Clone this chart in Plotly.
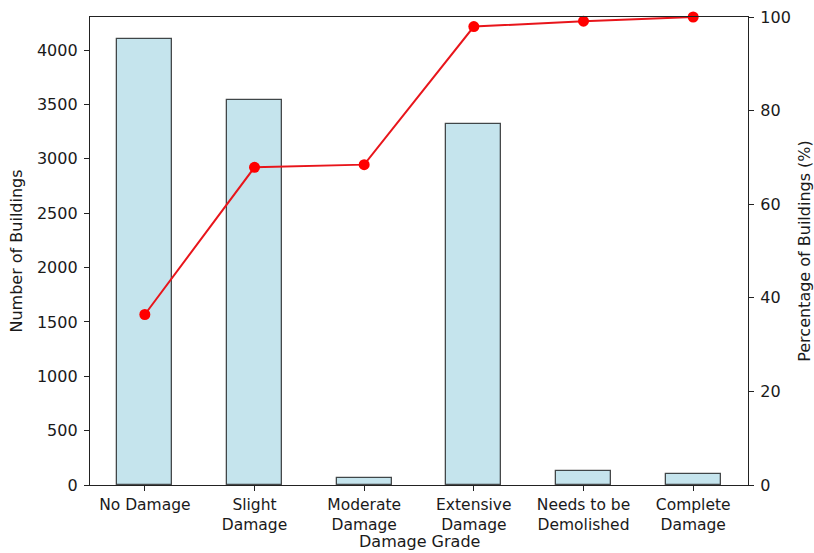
import plotly.graph_objects as go

categories = ["No Damage", "Slight<br>Damage", "Moderate<br>Damage", "Extensive<br>Damage",
              "Needs to be<br>Demolished", "Complete<br>Damage"]
building_counts = [4100, 3540, 64, 3320, 129, 101]

total = sum(building_counts)
cumulative_pct = []
running = 0
for c in building_counts:
    running += c
    cumulative_pct.append(running / total * 100)

xpos = list(range(len(categories)))
font = dict(family="DejaVu Sans", size=16, color="#1a1a1a")
xtick_font = dict(family="DejaVu Sans", size=15.5, color="#1a1a1a")

fig = go.Figure()
fig.add_trace(go.Bar(
    x=xpos, y=building_counts, width=0.5,
    marker=dict(color="rgba(173,216,230,0.7)",
                line=dict(color="rgba(0,0,0,0.7)", width=1.3)),
    showlegend=False,
))
fig.add_trace(go.Scatter(
    x=xpos, y=cumulative_pct, yaxis="y2", mode="lines+markers",
    line=dict(color="#e8151b", width=2),
    marker=dict(color="#ff0000", size=11),
    showlegend=False, cliponaxis=False,
))

axis_common = dict(showline=True, linecolor="#222", linewidth=1.3, ticks="outside",
                   ticklen=5, tickcolor="#222", showgrid=False, zeroline=False,
                   automargin=False)

fig.update_layout(
    width=814, height=553,
    margin=dict(l=90, r=66, t=17, b=68),
    plot_bgcolor="white", paper_bgcolor="white",
    font=font,
    xaxis=dict(**axis_common, range=[-0.5, 5.5], tickmode="array", tickvals=xpos,
               ticktext=categories, mirror=True, tickfont=xtick_font,
               ticklabelstandoff=0),
    yaxis=dict(**axis_common, range=[0, 4305], tickvals=list(range(0, 4001, 500)),
               tickfont=font, ticklabelstandoff=3,
               title=dict(text="Number of Buildings", font=font, standoff=10)),
    yaxis2=dict(**axis_common, range=[0, 100], overlaying="y", side="right",
                tickvals=[0, 20, 40, 60, 80, 100], tickfont=font, ticklabelstandoff=3,
                title=dict(text="Percentage of Buildings (%)", font=font, standoff=12)),
    bargap=0,
    annotations=[dict(text="Damage Grade", font=font, xref="paper", yref="paper",
                      x=0.5, y=0, yshift=-56, xanchor="center", yanchor="middle",
                      showarrow=False)],
)

fig.write_html("out.html")
